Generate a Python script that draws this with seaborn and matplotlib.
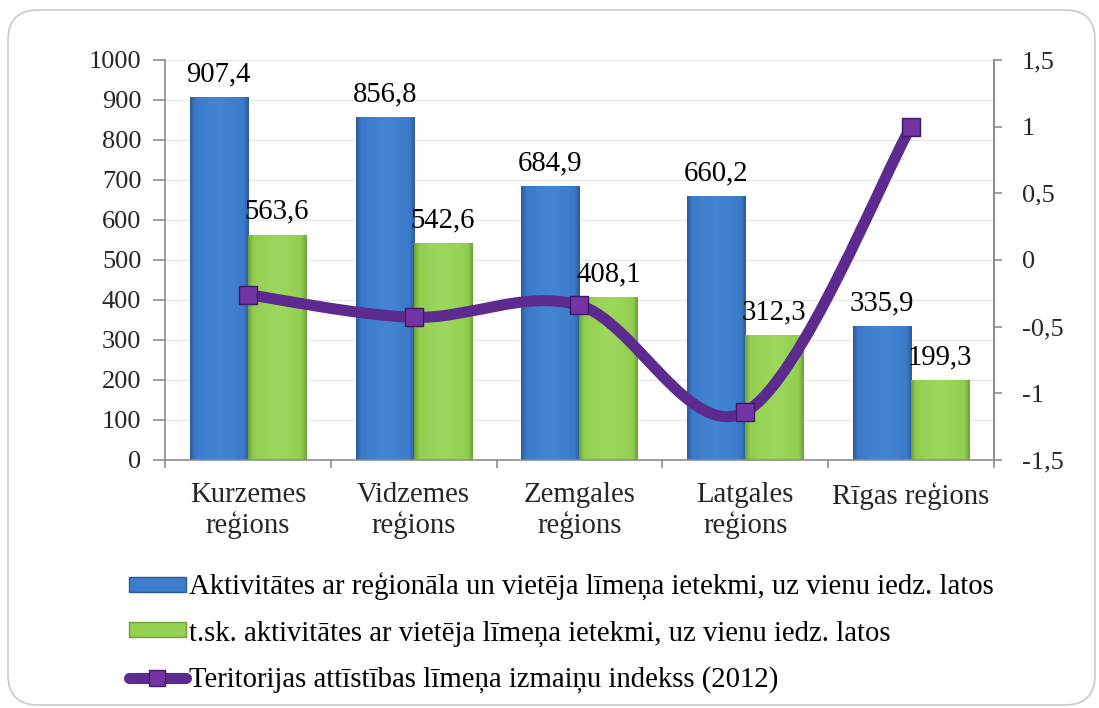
import numpy as np
import pandas as pd
import matplotlib
matplotlib.use("Agg")
import matplotlib.pyplot as plt
import seaborn as sns
from matplotlib.path import Path
from matplotlib.patches import PathPatch, FancyBboxPatch, Rectangle
from matplotlib.lines import Line2D
from matplotlib.colors import LinearSegmentedColormap

# ---------------- data ----------------
categories = ["Kurzemes\nreģions", "Vidzemes\nreģions", "Zemgales\nreģions",
              "Latgales\nreģions", "Rīgas reģions"]
series_names = ["Aktivitātes ar reģionāla un vietēja līmeņa ietekmi, uz vienu iedz. latos",
                "t.sk. aktivitātes ar vietēja līmeņa ietekmi, uz vienu iedz. latos"]
line_name = "Teritorijas attīstības līmeņa izmaiņu indekss (2012)"
regional_values = [907.4, 856.8, 684.9, 660.2, 335.9]
local_values = [563.6, 542.6, 408.1, 312.3, 199.3]
index_values = [-0.26, -0.43, -0.34, -1.14, 1.0]
left_ticks = [0, 100, 200, 300, 400, 500, 600, 700, 800, 900, 1000]
right_ticks = [-1.5, -1.0, -0.5, 0.0, 0.5, 1.0, 1.5]
right_tick_labels = ["-1,5", "-1", "-0,5", "0", "0,5", "1", "1,5"]

BLUE = "#3d7ccb"
GREEN = "#94d152"
PURPLE = "#5d2b8f"
MARK = "#7434a6"
AX_GRAY = "#8c8c8c"
FS = 19
LFS = 20.7

sns.set_theme(style="white")
plt.rcParams["font.family"] = ["Liberation Serif", "DejaVu Serif"]
plt.rcParams["text.color"] = "black"

fig = plt.figure(figsize=(10.99, 7.08), dpi=100)

# rounded outer frame
frame = FancyBboxPatch((0.08, 0.03), 10.87, 6.95,
                       boxstyle="round,pad=0,rounding_size=0.3",
                       transform=fig.dpi_scale_trans, facecolor="white",
                       edgecolor="#c9c9c9", linewidth=1.2, zorder=-10)
fig.patches.append(frame)

ax = fig.add_axes([0.1501, 0.3503, 0.7543, 0.565])
ax.set_facecolor("none")

df = pd.DataFrame({
    "region": categories * 2,
    "series": [series_names[0]] * len(categories) + [series_names[1]] * len(categories),
    "value": regional_values + local_values,
})
sns.barplot(data=df, x="region", y="value", hue="series", order=categories,
            hue_order=series_names, palette=[BLUE, GREEN], width=0.7,
            saturation=1, ax=ax, legend=False, edgecolor="none", zorder=2)

# gradient shading of bars (bevel-like look)
cmaps = [LinearSegmentedColormap.from_list("b", [(0, "#2a5a98"), (0.09, "#3b7aca"), (0.5, "#4586d4"),
                                                 (0.91, "#3b7aca"), (1, "#2a5a98")]),
         LinearSegmentedColormap.from_list("g", [(0, "#6c9f38"), (0.09, "#92cf50"), (0.5, "#9dd85e"),
                                                 (0.91, "#92cf50"), (1, "#6c9f38")])]
grad = np.linspace(0, 1, 256).reshape(1, -1)
for ci, cont in enumerate(ax.containers):
    for bar in cont:
        x0, y0 = bar.get_x(), bar.get_y()
        w, h = bar.get_width(), bar.get_height()
        im = ax.imshow(grad, extent=[x0, x0 + w, y0, y0 + h], aspect="auto",
                       cmap=cmaps[ci], zorder=2.5, interpolation="bilinear")
        im.set_clip_path(bar)
    labels = [f"{v:.1f}".replace(".", ",") for v in (regional_values if ci == 0 else local_values)]
    ax.bar_label(cont, labels=labels, padding=7, fontsize=LFS, zorder=6)

ax.set_xlim(-0.5, len(categories) - 0.5)
ax.set_ylim(0, 1000)
ax.set_yticks(left_ticks)
ax.set_xlabel("")
ax.set_ylabel("")
ax.yaxis.grid(True, color="#e8e8e8", linewidth=1)
ax.set_axisbelow(True)
ax.spines["top"].set_visible(False)
for s in ["left", "bottom", "right"]:
    ax.spines[s].set_color(AX_GRAY)
    ax.spines[s].set_linewidth(1.2)
ax.tick_params(axis="y", direction="out", length=9, width=1.2, color=AX_GRAY,
               labelsize=FS, pad=8, left=True)
ax.set_xticks(np.arange(len(categories)))
ax.set_xticklabels(categories, fontsize=LFS, linespacing=1.12)
ax.tick_params(axis="x", which="major", length=0, pad=16)
ax.set_xticks(np.arange(-0.5, len(categories)), minor=True)
ax.tick_params(axis="x", which="minor", direction="out", length=6, width=1.2,
               color=AX_GRAY, bottom=True)

# ---------------- secondary axis: smoothed line ----------------
ax2 = ax.twinx()
ax2.set_ylim(-1.5, 1.5)
ax2.set_yticks(right_ticks)
ax2.set_yticklabels(right_tick_labels)
ax2.tick_params(axis="y", direction="out", length=6, width=1.2, color=AX_GRAY,
                labelsize=FS, pad=14, right=True)
for s in ["top", "left", "bottom"]:
    ax2.spines[s].set_visible(False)
ax2.spines["right"].set_color(AX_GRAY)
ax2.spines["right"].set_linewidth(1.2)
ax2.grid(False)

xs = np.arange(len(index_values), dtype=float)
pts = np.column_stack([xs, np.asarray(index_values, dtype=float)])
verts = [pts[0]]
codes = [Path.MOVETO]
n = len(pts)
for i in range(n - 1):
    p0 = pts[i - 1] if i > 0 else pts[i]
    p1 = pts[i]
    p2 = pts[i + 1]
    p3 = pts[i + 2] if i + 2 < n else pts[i + 1]
    c1 = p1 + (p2 - p0) / 6.0
    c2 = p2 - (p3 - p1) / 6.0
    verts += [c1, c2, p2]
    codes += [Path.CURVE4] * 3
curve = PathPatch(Path(verts, codes), facecolor="none", edgecolor=PURPLE,
                  linewidth=8, capstyle="round", joinstyle="round", zorder=4)
ax2.add_patch(curve)
sns.scatterplot(x=xs, y=index_values, marker="s", s=150, color=MARK,
                edgecolor="#3e1a63", linewidth=1, ax=ax2, zorder=5, legend=False)
ax2.set_xlim(-0.5, len(categories) - 0.5)

# ---------------- legend ----------------
handles = [Rectangle((0, 0), 1, 1, facecolor=BLUE, edgecolor="#2a5a98"),
           Rectangle((0, 0), 1, 1, facecolor=GREEN, edgecolor="#6c9f38"),
           Line2D([0], [0], color=PURPLE, linewidth=8, solid_capstyle="round",
                  marker="s", markersize=12, markerfacecolor=MARK,
                  markeredgecolor="#3e1a63")]
fig.legend(handles, series_names + [line_name], loc="upper left",
           bbox_to_anchor=(0.117, 0.191), frameon=False, fontsize=LFS,
           handlelength=2.0, handleheight=0.42, handletextpad=0.1,
           labelspacing=0.67, borderpad=0, borderaxespad=0, numpoints=1)

fig.savefig("out.png", dpi=100)
